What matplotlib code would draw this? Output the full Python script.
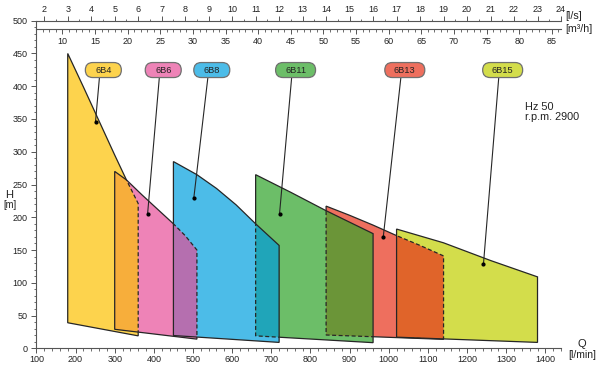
import numpy as np
import matplotlib
matplotlib.use("Agg")
import matplotlib.pyplot as plt
import matplotlib.transforms as mtransforms
from matplotlib.path import Path
from matplotlib.patches import PathPatch, FancyBboxPatch
from matplotlib.ticker import MultipleLocator

plt.rcParams['font.family'] = ['Liberation Sans', 'DejaVu Sans']

# operating fields of the pumps, Q in l/min, H in m
models = ["6B4", "6B6", "6B8", "6B11", "6B13", "6B15"]

top_q_6b4 = [180, 220, 260, 300, 330, 360]
top_h_6b4 = [450, 399, 347, 295, 257, 221]
top_q_6b6 = [300, 330, 370, 410, 450, 480, 510]
top_h_6b6 = [270, 257, 234, 212, 190, 172, 150]
top_q_6b8 = [450, 510, 560, 610, 660, 720]
top_h_6b8 = [285, 265, 244, 219, 190, 157]
top_q_6b11 = [660, 750, 840, 960]
top_h_6b11 = [265, 238, 210, 175]
top_q_6b13 = [840, 900, 960, 1020, 1080, 1140]
top_h_6b13 = [217, 203, 188, 172, 157, 141]
top_q_6b15 = [1020, 1140, 1260, 1380]
top_h_6b15 = [182, 161, 134, 109]

# minimum head at the left and right end of each field
bottom_h_left = [39, 29, 19.5, 19, 20.3, 17]
bottom_h_right = [19, 14, 9, 8.6, 13.7, 9]

colors = ["#FDD34D", "#EE83B7", "#4CBCE8", "#6CBE68", "#EE6F5E", "#D3DD4B"]

# (field drawn below, field drawn on top, colour of the shared area)
overlaps = [("6B4", "6B6", "#F7AE3B"),
            ("6B6", "6B8", "#B56FAF"),
            ("6B11", "6B8", "#20A5B9"),
            ("6B13", "6B11", "#6B9538"),
            ("6B13", "6B15", "#E0642A")]

# name tags and the points they refer to
label_q = [271, 424, 548, 762, 1041, 1291]
dot_q = [251, 384, 502, 721, 986, 1242]
dot_h = [346, 205, 229, 205, 170, 129]

top_q = [top_q_6b4, top_q_6b6, top_q_6b8, top_q_6b11, top_q_6b13, top_q_6b15]
top_h = [top_h_6b4, top_h_6b6, top_h_6b8, top_h_6b11, top_h_6b13, top_h_6b15]

edge = "#262626"

fig = plt.figure(figsize=(6, 3.68), dpi=100)
ax = fig.add_axes([36.4 / 600, 19.7 / 368, 524.6 / 600, 327.6 / 368])
ax.set_xlim(100, 1440)
ax.set_ylim(0, 500)

polys = {}
for i, name in enumerate(models):
    pts = list(zip(top_q[i], top_h[i]))
    pts.append((top_q[i][-1], bottom_h_right[i]))
    pts.append((top_q[i][0], bottom_h_left[i]))
    polys[name] = np.array(pts, dtype=float)

patches = {}
for i, name in enumerate(models):
    p = PathPatch(Path(polys[name], closed=False), fc=colors[i], ec="none", zorder=1)
    ax.add_patch(p)
    patches[name] = p

for lower, upper, c in overlaps:
    p = PathPatch(Path(polys[upper]), fc=c, ec="none", zorder=2)
    ax.add_patch(p)
    p.set_clip_path(patches[lower])


def outside_of(names):
    verts = [(-5000, -5000), (5000, -5000), (5000, 5000), (-5000, 5000), (-5000, -5000)]
    codes = [Path.MOVETO] + [Path.LINETO] * 3 + [Path.CLOSEPOLY]
    for n in names:
        p = polys[n]
        area = 0.5 * np.sum(p[:, 0] * np.roll(p[:, 1], -1) - np.roll(p[:, 0], -1) * p[:, 1])
        if area > 0:
            p = p[::-1]
        verts += [tuple(v) for v in p] + [tuple(p[0])]
        codes += [Path.MOVETO] + [Path.LINETO] * (len(p) - 1) + [Path.CLOSEPOLY]
    return Path(verts, codes)


for name in models:
    closed = Path(np.vstack([polys[name], polys[name][:1]]), closed=True)
    covers = [u for lo, u, c in overlaps if lo == name]
    solid = PathPatch(closed, fc="none", ec=edge, lw=0.9, zorder=3)
    ax.add_patch(solid)
    if covers:
        solid.set_clip_path(outside_of(covers), ax.transData)
        for u in covers:
            d = PathPatch(closed, fc="none", ec=edge, lw=0.9, ls=(0, (3.2, 2.0)), zorder=3)
            ax.add_patch(d)
            d.set_clip_path(patches[u])

# name tags with leader lines
tag_h = 424.7
tag_bottom = 413.3
for i, name in enumerate(models):
    ax.plot([label_q[i] - 10, dot_q[i]], [tag_bottom, dot_h[i]], color=edge, lw=0.8, zorder=4)
    ax.plot(dot_q[i], dot_h[i], "o", color="black", ms=2, zorder=5)
    w = 0.24 + 0.04 * len(name)
    h = 0.15
    trans = fig.dpi_scale_trans + mtransforms.ScaledTranslation(label_q[i], tag_h, ax.transData)
    box = FancyBboxPatch((-w / 2, -h / 2), w, h, boxstyle=f"round,pad=0,rounding_size={h / 2}",
                         fc=colors[i], ec="#707070", lw=0.9, transform=trans, zorder=6, clip_on=False)
    ax.add_patch(box)
    ax.text(label_q[i], tag_h, name, ha="center", va="center", fontsize=6.7, color="#222222", zorder=7)

# axes styling
axis_col = "#555555"
for s in ["top", "right"]:
    ax.spines[s].set_visible(False)
for s in ["left", "bottom"]:
    ax.spines[s].set_color(axis_col)
    ax.spines[s].set_linewidth(0.8)
ax.xaxis.set_major_locator(MultipleLocator(100))
ax.xaxis.set_minor_locator(MultipleLocator(20))
ax.yaxis.set_major_locator(MultipleLocator(50))
ax.yaxis.set_minor_locator(MultipleLocator(10))
ax.tick_params(which="major", length=3.4, width=0.7, color=axis_col, labelsize=6.5, labelcolor="#222222")
ax.tick_params(which="minor", length=1.8, width=0.6, color=axis_col)
ax.tick_params(axis="x", pad=1.5)
ax.tick_params(axis="y", pad=3)

sec_ls = ax.secondary_xaxis("top", functions=(lambda q: q / 60, lambda s: s * 60))
sec_ls.xaxis.set_major_locator(MultipleLocator(1))
sec_ls.xaxis.set_minor_locator(MultipleLocator(0.5))
sec_ls.spines["top"].set_color(axis_col)
sec_ls.spines["top"].set_linewidth(0.8)
sec_ls.tick_params(which="major", length=3.4, width=0.7, color=axis_col, labelsize=6.5,
                   labelcolor="#222222", pad=1.5)
sec_ls.tick_params(which="minor", length=1.8, width=0.6, color=axis_col)

sec_m3 = ax.secondary_xaxis(0.9745, functions=(lambda q: q * 0.06, lambda m: m / 0.06))
sec_m3.set_alignment("bottom")
sec_m3.xaxis.set_major_locator(MultipleLocator(5))
sec_m3.xaxis.set_minor_locator(MultipleLocator(1))
sec_m3.spines["bottom"].set_color(axis_col)
sec_m3.spines["bottom"].set_linewidth(0.8)
sec_m3.tick_params(which="major", length=3.4, width=0.7, color=axis_col, labelsize=6.5,
                   labelcolor="#222222", pad=2.5)
sec_m3.tick_params(which="minor", length=1.8, width=0.6, color=axis_col)

txt = "#222222"
fig.text(565 / 600, 1 - 16 / 368, "[l/s]", fontsize=7.7, color=txt, va="center", ha="left")
fig.text(565 / 600, 1 - 29 / 368, "[m\u00b3/h]", fontsize=7.7, color=txt, va="center", ha="left")
fig.text(9.5 / 600, 1 - 195 / 368, "H", fontsize=8, color=txt, va="center", ha="center")
fig.text(9.5 / 600, 1 - 205.5 / 368, "[m]", fontsize=6.9, color=txt, va="center", ha="center")
fig.text(581.7 / 600, 1 - 344 / 368, "Q", fontsize=8, color=txt, va="center", ha="center")
fig.text(582.5 / 600, 1 - 354.5 / 368, "[l/min]", fontsize=7.5, color=txt, va="center", ha="center")
fig.text(525 / 600, 1 - 112 / 368, "Hz 50\nr.p.m. 2900", fontsize=7.8, color=txt,
         va="center", ha="left", linespacing=1.05)

fig.savefig("out.png", dpi=100)
